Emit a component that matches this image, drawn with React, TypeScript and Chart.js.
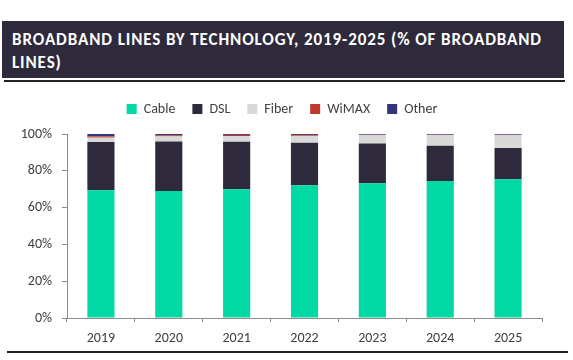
import React, { useEffect, useRef } from "react";
import { Chart, registerables } from "chart.js";

Chart.register(...registerables);

const years = ["2019", "2020", "2021", "2022", "2023", "2024", "2025"];
const cable = [69.4, 69.0, 70.0, 72.2, 73.3, 74.4, 75.4];
const dsl = [26.2, 26.9, 25.8, 23.1, 21.5, 19.2, 17.0];
const fiber = [2.4, 2.8, 3.1, 3.7, 4.7, 5.9, 7.1];
const wimax = [0.7, 0.6, 0.6, 0.5, 0.1, 0.1, 0.1];
const other = [1.3, 0.7, 0.5, 0.5, 0.4, 0.4, 0.4];
const yTicks = [0, 20, 40, 60, 80, 100];

const FONT = "Carlito, Lato, 'Open Sans', sans-serif";

const legendGap = {
  id: "legendGap",
  beforeUpdate(chart: any) {
    const lg = chart.legend;
    if (lg && !lg._gapPatched) {
      const f = lg.fit.bind(lg);
      lg.fit = function () {
        f();
        this.height += 8;
      };
      lg._gapPatched = true;
    }
  },
};

export default function App() {
  const ref = useRef<HTMLCanvasElement | null>(null);

  useEffect(() => {
    document.body.style.margin = "0";
    const ctx = ref.current!;
    const chart = new Chart(ctx, {
      type: "bar",
      data: {
        labels: years,
        datasets: [
          { label: "Cable", data: cable, backgroundColor: "#00D9A3" },
          { label: "DSL", data: dsl, backgroundColor: "#2E2A3C" },
          { label: "Fiber", data: fiber, backgroundColor: "#D9D9D9" },
          { label: "WiMAX", data: wimax, backgroundColor: "#C0392B" },
          { label: "Other", data: other, backgroundColor: "#33367A" },
        ],
      },
      plugins: [legendGap],
      options: {
        animation: false,
        responsive: false,
        maintainAspectRatio: false,
        layout: { padding: { left: 22, right: 31, top: -3, bottom: 0 } },
        datasets: { bar: { categoryPercentage: 1, barPercentage: 0.4 } },
        plugins: {
          tooltip: { enabled: false },
          legend: {
            position: "top",
            labels: {
              boxWidth: 10,
              boxHeight: 10,
              padding: 17,
              color: "#404040",
              font: { family: FONT, size: 14 },
            },
          },
        },
        scales: {
          x: {
            stacked: true,
            grid: { display: true, drawOnChartArea: false, drawTicks: true, tickLength: 4, color: "#8C8C8C" },
            border: { display: true, color: "#8C8C8C" },
            ticks: { color: "#404040", font: { family: FONT, size: 14 }, padding: 8, maxRotation: 0 },
            afterFit: (s: any) => { s.height = 32; },
          },
          y: {
            stacked: true,
            min: 0,
            max: 100,
            grid: { display: true, drawOnChartArea: false, drawTicks: true, tickLength: 5, color: "#8C8C8C" },
            border: { display: true, color: "#8C8C8C" },
            afterBuildTicks: (s: any) => { s.ticks = yTicks.map((v) => ({ value: v })); },
            ticks: {
              color: "#404040",
              font: { family: FONT, size: 14 },
              padding: 10,
              callback: (v: any) => v + "%",
            },
            afterFit: (s: any) => { s.width = 45; },
          },
        },
      },
    });
    return () => chart.destroy();
  }, []);

  return (
    <div style={{ position: "absolute", left: 0, top: 0, width: 573, height: 360, background: "#fff", overflow: "hidden" }}>
      <div
        style={{
          position: "absolute",
          left: 2,
          top: 21,
          width: 562,
          height: 57,
          background: "#2E2A3C",
          color: "#fff",
          fontFamily: FONT,
          fontWeight: 700,
          fontSize: 17,
          letterSpacing: "0.9px",
          lineHeight: "23px",
          paddingLeft: 10,
          paddingTop: 7,
          boxSizing: "border-box",
          whiteSpace: "nowrap",
        }}
      >
        BROADBAND LINES BY TECHNOLOGY, 2019-2025 (% OF BROADBAND
        <br />
        LINES)
      </div>
      <div style={{ position: "absolute", left: 4, top: 80, width: 561, height: 2, background: "#222" }} />
      <canvas ref={ref} width={573} height={262} style={{ position: "absolute", left: 0, top: 88, width: 573, height: 262 }} />
      <div style={{ position: "absolute", left: 7, top: 351, width: 561, height: 1.5, background: "#222" }} />
    </div>
  );
}
